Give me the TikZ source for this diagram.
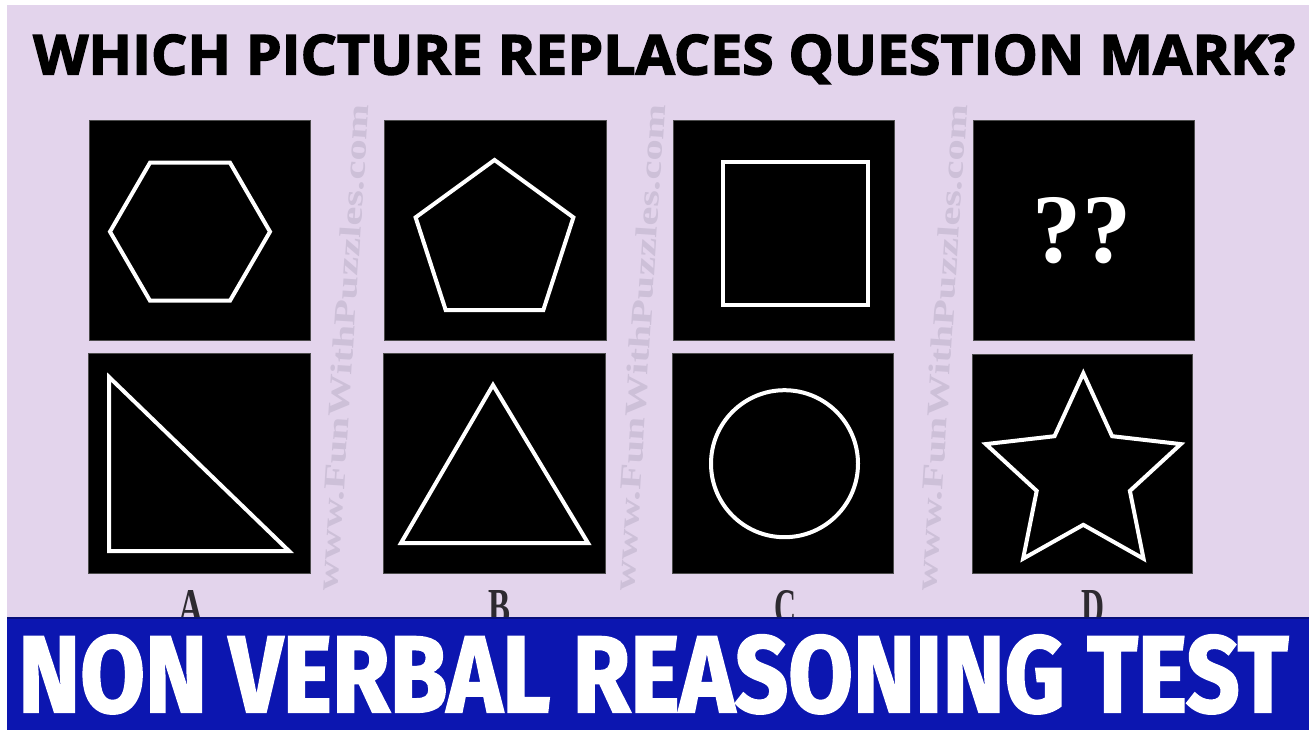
\documentclass[tikz,border=0pt]{standalone}
\usepackage{fontspec}
\usepackage{graphicx}
\setmainfont{Liberation Serif}
\newfontfamily\titlefont{Open Sans}[BoldFeatures={FakeBold=2.5}]
\newfontfamily\bannerfont{Fira Sans}[BoldFeatures={FakeBold=2}]
\definecolor{lav}{RGB}{227,212,236}
\definecolor{bannerblue}{RGB}{12,22,176}
\definecolor{wmark}{RGB}{205,192,216}
\definecolor{lettergray}{RGB}{45,42,48}
\tikzset{
  cellbox/.style={fill=black, draw=black!70, line width=0.8pt},
  figline/.style={draw=white, line width=4pt, line join=miter},
  wmtext/.style={text=wmark, inner sep=0pt, rotate=86.3},
  lettertext/.style={text=lettergray, inner sep=0pt, anchor=base},
}
\begin{document}
\begin{tikzpicture}[x=1pt, y=-1pt]
\useasboundingbox (0,0) rectangle (1309,730);
% background
\fill[white] (0,0) rectangle (1309,730);
\fill[lav] (7,5) rectangle (1309,617);
% title
\node[inner sep=0pt, anchor=base west] (title) at (33,74.5)
  {\resizebox{1262pt}{40pt}{\titlefont\bfseries WHICH PICTURE REPLACES QUESTION MARK?}};
% watermarks
\node[wmtext] (wm1) at (343,347.5) {\resizebox{487pt}{21pt}{\bfseries www.FunWithPuzzles.com}};
\node[wmtext] (wm2) at (639.5,347.5) {\resizebox{487pt}{21pt}{\bfseries www.FunWithPuzzles.com}};
\node[wmtext] (wm3) at (941.5,347.5) {\resizebox{487pt}{21pt}{\bfseries www.FunWithPuzzles.com}};
% boxes
\draw[cellbox] (89,120) rectangle (310,340);
\draw[cellbox] (88,353) rectangle (310,573);
\draw[cellbox] (384,120) rectangle (606,340);
\draw[cellbox] (383,353) rectangle (605,573);
\draw[cellbox] (673,120) rectangle (894,340);
\draw[cellbox] (672,353) rectangle (893,573);
\draw[cellbox] (973,120) rectangle (1194,340);
\draw[cellbox] (972,354) rectangle (1192,573);
% A: hexagon and right triangle
\draw[figline] (150,162.7) -- (230,162.7) -- (270,231.7) -- (230,300.7) -- (150,300.7) -- (110,231.7) -- cycle;
\draw[figline] (109,377) -- (109,551) -- (289,551) -- cycle;
% B: pentagon and triangle
\draw[figline] (494.5,160) -- (573.4,217.4) -- (543.3,310.1) -- (445.7,310.1) -- (415.6,217.4) -- cycle;
\draw[figline] (493,385) -- (588,543) -- (401,543) -- cycle;
% C: square and circle
\draw[figline] (723,162) rectangle (868,305);
\draw[figline] (784.5,463.7) circle[radius=73.5];
% D: question marks and star
\node[inner sep=0pt, text=white] (qq) at (1082,231) {\resizebox{!}{65pt}{\bfseries ??}};
\draw[figline] (1083.3,373.3) -- (1112.1,436.2) -- (1180.8,444.1) -- (1129.9,490.9)
  -- (1143.5,558.7) -- (1083.3,524.8) -- (1023.1,558.7) -- (1036.7,490.9)
  -- (985.8,444.1) -- (1054.5,436.2) -- cycle;
% letters
\node[lettertext] (la) at (191,624) {\resizebox{25pt}{34pt}{\bfseries A}};
\node[lettertext] (lb) at (499,624) {\resizebox{22pt}{34pt}{\bfseries B}};
\node[lettertext] (lc) at (785,624) {\resizebox{22pt}{34pt}{\bfseries C}};
\node[lettertext] (ld) at (1093,624) {\resizebox{23pt}{34pt}{\bfseries D}};
% banner
\fill[bannerblue] (7,617) rectangle (1309,730);
\draw[bannerblue!70!black, line width=1.5pt] (7,618) -- (1309,618);
\node[inner sep=0pt, anchor=base west, text=white] (banner) at (18,712)
  {\resizebox{1270pt}{77pt}{\bannerfont\bfseries NON VERBAL REASONING TEST}};
\end{tikzpicture}
\end{document}
